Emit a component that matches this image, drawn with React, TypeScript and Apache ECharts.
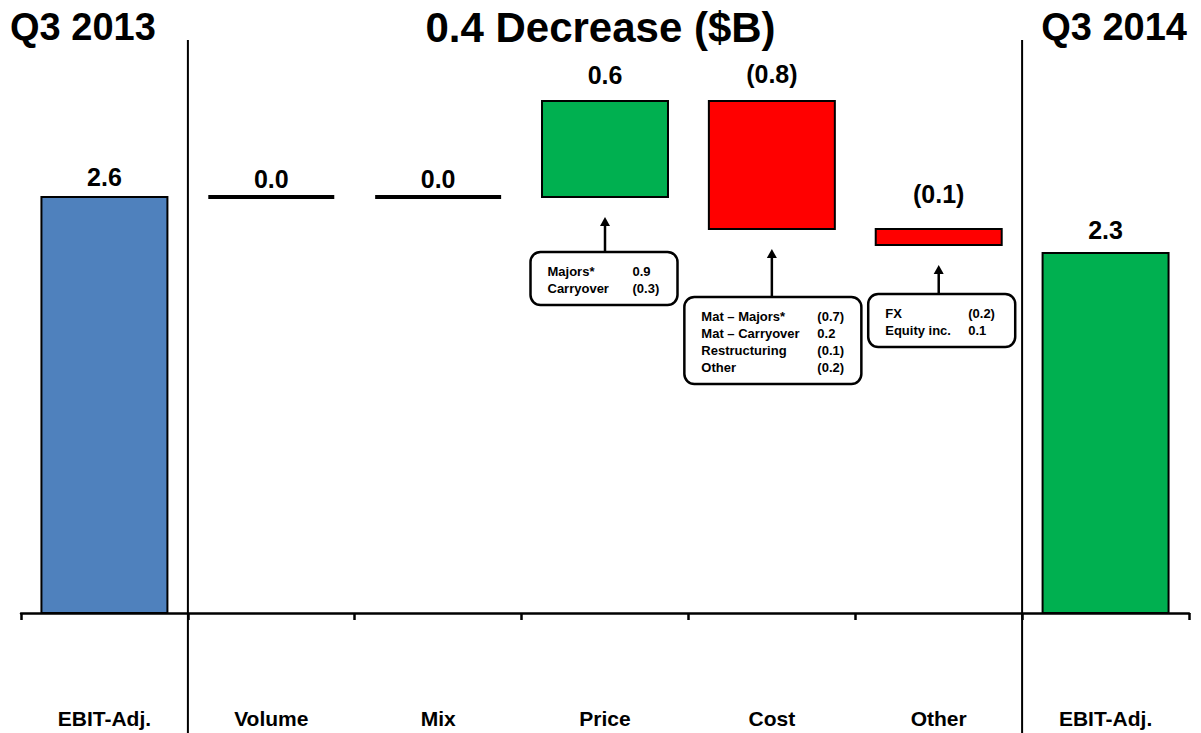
import React, { useEffect, useRef } from "react";
import * as echarts from "echarts";

// ---- data ----
const categories = ["EBIT-Adj.", "Volume", "Mix", "Price", "Cost", "Other", "EBIT-Adj."];
const startValue = 2.6;
const deltaValues = [0.0, 0.0, 0.6, -0.8, -0.1];
const endValue = 2.25;
const valueLabels = ["2.6", "0.0", "0.0", "0.6", "(0.8)", "(0.1)", "2.3"];

const annotationCategories = [3, 4, 5];
const annotationNames = [
  ["Majors*", "Carryover"],
  ["Mat \u2013 Majors*", "Mat \u2013 Carryover", "Restructuring", "Other"],
  ["FX", "Equity inc."],
];
const annotationValues = [
  ["0.9", "(0.3)"],
  ["(0.7)", "0.2", "(0.1)", "(0.2)"],
  ["(0.2)", "0.1"],
];

const titleLeft = "Q3 2013";
const titleCenter = "0.4 Decrease ($B)";
const titleRight = "Q3 2014";

// ---- layout / style constants ----
const FONT = '"Liberation Sans", Arial, Helvetica, sans-serif';
const COLORS: Record<string, string> = {
  start: "#4F81BD",
  end: "#00B050",
  up: "#00B050",
  down: "#FF0000",
};
const labelLift = [20, 18, 18, 26, 27, 35, 23];
const arrowLen = [35, 48, 29];
const boxWidth = [147, 177, 147];
const boxDx = [-1, 1, 3];
const valueCol = [102, 133, 100];

export default function App() {
  const ref = useRef<HTMLDivElement>(null);

  useEffect(() => {
    if (!ref.current) return;
    const chart = echarts.init(ref.current, undefined, { renderer: "svg" });

    // build waterfall items
    const items: any[] = [];
    const kinds: string[] = [];
    items.push([0, 0, startValue]);
    kinds.push("start");
    let cum = startValue;
    deltaValues.forEach((d, i) => {
      const next = cum + d;
      items.push([i + 1, Math.min(cum, next), Math.max(cum, next)]);
      kinds.push(d > 0 ? "up" : d < 0 ? "down" : "flat");
      cum = next;
    });
    items.push([categories.length - 1, 0, endValue]);
    kinds.push("end");

    const annotationData = annotationCategories.map((c) => [c, items[c][1]]);

    const option: any = {
      animation: false,
      backgroundColor: "#ffffff",
      title: [
        {
          text: titleLeft,
          left: 5,
          top: 3,
          textStyle: { fontFamily: FONT, fontSize: 38, fontWeight: "bold", color: "#000" },
        },
        {
          text: titleCenter,
          left: "center",
          top: 1,
          textStyle: { fontFamily: FONT, fontSize: 42, fontWeight: "bold", color: "#000" },
        },
        {
          text: titleRight,
          right: 9,
          top: 3,
          textStyle: { fontFamily: FONT, fontSize: 38, fontWeight: "bold", color: "#000" },
        },
      ],
      grid: { left: 21, right: 12, top: 53, bottom: 120, containLabel: false },
      xAxis: {
        type: "category",
        data: categories,
        boundaryGap: true,
        axisLine: { show: true, lineStyle: { color: "#000", width: 2.5 } },
        axisTick: { show: true, length: 7, lineStyle: { color: "#000", width: 2.5 } },
        axisLabel: {
          margin: 95,
          fontFamily: FONT,
          fontSize: 21,
          fontWeight: "bold",
          color: "#000",
          interval: 0,
        },
        splitLine: { show: false },
      },
      yAxis: {
        type: "value",
        min: 0,
        max: 3.5,
        show: false,
        splitLine: { show: false },
      },
      graphic: [
        {
          type: "line",
          shape: { x1: 187.9, y1: 40, x2: 187.9, y2: 733 },
          style: { stroke: "#000", lineWidth: 2 },
          z: 1,
        },
        {
          type: "line",
          shape: { x1: 1022.1, y1: 40, x2: 1022.1, y2: 733 },
          style: { stroke: "#000", lineWidth: 2 },
          z: 1,
        },
      ],
      series: [
        {
          type: "custom",
          name: "waterfall",
          data: items,
          encode: { x: 0, y: [1, 2] },
          clip: false,
          renderItem: (params: any, api: any) => {
            const i = params.dataIndex;
            const idx = api.value(0);
            const low = api.value(1);
            const high = api.value(2);
            const pLow = api.coord([idx, low]);
            const pHigh = api.coord([idx, high]);
            const w = api.size([1, 0])[0] * 0.755;
            const kind = kinds[i];
            const children: any[] = [];
            if (kind === "flat") {
              children.push({
                type: "rect",
                shape: { x: pLow[0] - w / 2, y: pHigh[1] - 2, width: w, height: 4 },
                style: { fill: "#000" },
              });
            } else {
              children.push({
                type: "rect",
                shape: {
                  x: pLow[0] - w / 2,
                  y: pHigh[1],
                  width: w,
                  height: pLow[1] - pHigh[1],
                },
                style: { fill: COLORS[kind], stroke: "#000", lineWidth: 2 },
              });
            }
            children.push({
              type: "text",
              x: pLow[0],
              y: pHigh[1] - labelLift[i],
              style: {
                text: valueLabels[i],
                align: "center",
                verticalAlign: "middle",
                font: `bold 25px ${FONT}`,
                fill: "#000",
              },
            });
            return { type: "group", children };
          },
          z: 3,
        },
        {
          type: "custom",
          name: "annotations",
          data: annotationData,
          encode: { x: 0, y: 1 },
          clip: false,
          renderItem: (params: any, api: any) => {
            const a = params.dataIndex;
            const p = api.coord([api.value(0), api.value(1)]);
            const cx = p[0];
            const tipY = p[1] + 20;
            const boxTop = tipY + arrowLen[a];
            const names = annotationNames[a];
            const vals = annotationValues[a];
            const bw = boxWidth[a];
            const bh = 19 + (names.length - 1) * 17 + 17;
            const bx = cx - bw / 2 + boxDx[a];
            const children: any[] = [
              {
                type: "line",
                shape: { x1: cx, y1: tipY + 6, x2: cx, y2: boxTop },
                style: { stroke: "#000", lineWidth: 2.5 },
              },
              {
                type: "polygon",
                shape: {
                  points: [
                    [cx, tipY],
                    [cx - 5, tipY + 9],
                    [cx + 5, tipY + 9],
                  ],
                },
                style: { fill: "#000" },
              },
              {
                type: "rect",
                shape: { x: bx, y: boxTop, width: bw, height: bh, r: 10 },
                style: { fill: "#fff", stroke: "#000", lineWidth: 2.5 },
              },
            ];
            names.forEach((n, k) => {
              const ty = boxTop + 19 + k * 17;
              children.push({
                type: "text",
                x: bx + 17,
                y: ty,
                style: {
                  text: n,
                  align: "left",
                  verticalAlign: "middle",
                  font: `bold 13px ${FONT}`,
                  fill: "#000",
                },
              });
              children.push({
                type: "text",
                x: bx + valueCol[a],
                y: ty,
                style: {
                  text: vals[k],
                  align: "left",
                  verticalAlign: "middle",
                  font: `bold 13px ${FONT}`,
                  fill: "#000",
                },
              });
            });
            return { type: "group", children };
          },
          z: 4,
        },
      ],
    };

    chart.setOption(option);
    return () => {
      chart.dispose();
    };
  }, []);

  return (
    <div
      ref={ref}
      style={{ position: "fixed", left: 0, top: 0, width: 1201, height: 733, background: "#fff" }}
    />
  );
}
